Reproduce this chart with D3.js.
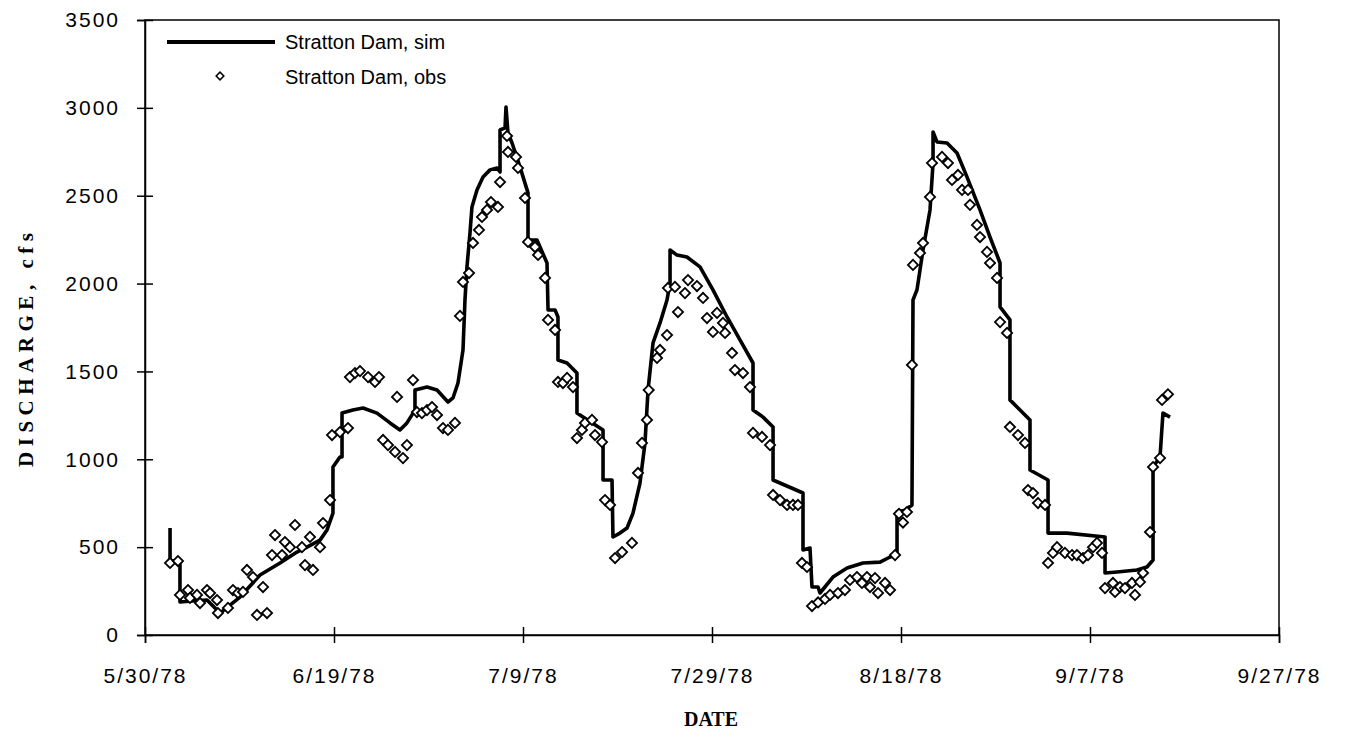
<!DOCTYPE html>
<html>
<head>
<meta charset="utf-8">
<script src="https://cdn.jsdelivr.net/npm/d3@7"></script>
<style>
    body { margin: 0; background: #fff; }
    text { font-family: "Liberation Sans", Arial, sans-serif; }
</style>
</head>
<body>
<div id="chart"></div>
<script>
// days after 5/30/78
const simDays = [2.65, 2.65, 3.7, 3.7, 5.3, 6.56, 7.94, 10.05, 12.17, 14.29, 16.08, 17.14, 18.52, 19.26, 19.89, 19.89,
    20.63, 20.85, 20.85, 22.0, 23.07, 24.55, 25.93, 26.98, 27.72, 28.57, 28.57, 29.84, 30.9, 32.06, 32.59, 33.12,
    33.65, 33.86, 34.07, 34.39, 34.6, 35.13, 35.77, 36.51, 37.25, 37.57, 37.57, 38.1, 38.2, 38.41, 38.84, 39.68,
    40.53, 40.53, 41.48, 42.54, 42.65, 43.39, 43.7, 43.7, 44.66, 45.71, 45.71, 46.35, 48.47, 48.47, 49.42, 49.52,
    50.26, 51.01, 51.64, 52.38, 52.91, 53.23, 53.76, 54.5, 55.24, 55.56, 55.56, 56.3, 57.35, 58.73, 60.1, 61.59,
    62.96, 64.34, 64.34, 65.4, 66.46, 66.46, 69.63, 69.63, 70.37, 70.58, 71.22, 71.43, 72.8, 74.29, 75.98, 77.78,
    78.84, 79.58, 79.58, 80.42, 81.16, 81.27, 81.69, 82.33, 83.07, 83.39, 83.39, 83.81, 84.87, 85.93, 86.98, 88.36,
    89.42, 90.48, 90.48, 91.53, 91.53, 93.65, 93.65, 95.56, 95.56, 97.57, 101.59, 101.59, 102.86, 104.97, 106.03,
    106.67, 106.67, 107.41, 107.72, 108.47];
const simQ = [609, 427, 410, 188, 195, 199, 125, 216, 341, 410, 472, 500, 540, 598, 694, 956,
    1013, 1013, 1263, 1280, 1292, 1263, 1207, 1167, 1207, 1280, 1394, 1411, 1394, 1326, 1349, 1434,
    1622, 1907, 2095, 2288, 2436, 2533, 2607, 2647, 2658, 2635, 2874, 2886, 3005, 2857, 2800, 2664,
    2516, 2248, 2248, 2117, 1850, 1850, 1810, 1565, 1548, 1491, 1263, 1240, 1167, 882, 882, 558,
    580, 609, 694, 865, 1093, 1394, 1662, 1776, 1907, 2003, 2191, 2162, 2151, 2095, 1964, 1810,
    1679, 1548, 1280, 1240, 1184, 882, 808, 484, 495, 273, 273, 239, 330, 381, 410, 415,
    444, 460, 700, 710, 740, 1907, 1964, 2191, 2419, 2686, 2863, 2806, 2800, 2743, 2607, 2419,
    2265, 2117, 1867, 1793, 1338, 1224, 939, 882, 580, 580, 558, 353, 359, 370, 387,
    427, 956, 1013, 1263, 1240];

const obsDays = [2.65, 3.49, 3.7, 4.55, 4.76, 5.5, 5.82, 6.56, 6.88, 7.62, 7.72, 8.78, 9.31, 9.84, 10.37, 10.79,
    11.43, 11.85, 12.49, 12.91, 13.44, 13.76, 14.5, 14.81, 15.34, 15.87, 16.61, 16.93, 17.46, 17.78, 18.52, 18.84,
    19.58, 19.79, 20.63, 21.48, 21.69, 22.22, 22.75, 23.6, 24.34, 24.76, 25.19, 25.71, 26.46, 26.67, 27.3, 27.72,
    28.36, 28.78, 29.31, 29.84, 30.37, 30.9, 31.53, 32.06, 32.8, 33.33, 33.65, 34.29, 34.71, 35.34, 35.66, 36.19,
    36.61, 37.35, 37.57, 38.31, 38.41, 39.26, 39.47, 40.21, 40.53, 41.27, 41.59, 42.33, 42.65, 43.39, 43.7, 44.23,
    44.66, 45.29, 45.71, 46.24, 46.56, 47.3, 47.62, 48.36, 48.68, 49.21, 49.74, 50.48, 51.53, 52.17, 52.59, 53.12,
    53.3, 54.18, 54.5, 55.24, 55.34, 56.08, 56.4, 57.14, 57.46, 58.41, 59.05, 59.47, 60.1, 60.53, 61.16, 61.38,
    62.12, 62.43, 63.28, 64.02, 64.34, 65.29, 66.14, 66.46, 67.2, 67.94, 68.57, 69.1, 69.52, 70.05, 70.58, 71.22,
    71.96, 72.49, 73.33, 74.07, 74.6, 75.34, 75.87, 76.4, 76.72, 77.25, 77.57, 78.31, 78.84, 79.37, 79.79, 80.21,
    80.63, 81.16, 81.27, 82.01, 82.33, 83.07, 83.28, 84.34, 84.97, 85.4, 86.03, 86.46, 87.09, 87.3, 88.04, 88.36,
    89.1, 89.42, 90.16, 90.48, 91.22, 91.53, 92.38, 93.12, 93.44, 93.97, 94.5, 95.24, 95.56, 96.08, 96.51, 97.35,
    98.1, 98.62, 99.26, 99.79, 100.32, 100.74, 101.27, 101.59, 102.43, 102.65, 103.17, 103.7, 104.44, 104.76, 105.29, 105.61,
    106.35, 106.67, 107.41, 107.62, 108.25];
const obsQ = [410, 421, 228, 256, 211, 228, 182, 256, 239, 199, 125, 154, 256, 239, 245, 370,
    330, 114, 273, 125, 455, 569, 455, 529, 500, 626, 500, 398, 558, 370, 500, 637,
    768, 1138, 1155, 1178, 1468, 1491, 1502, 1468, 1440, 1468, 1110, 1081, 1042, 1355, 1007, 1081,
    1451, 1269, 1263, 1280, 1297, 1252, 1178, 1167, 1207, 1816, 2009, 2060, 2231, 2305, 2379, 2419,
    2464, 2436, 2578, 2840, 2749, 2721, 2658, 2487, 2237, 2208, 2163, 2032, 1793, 1736, 1440, 1434,
    1463, 1411, 1121, 1167, 1207, 1224, 1138, 1098, 768, 740, 438, 472, 524, 922, 1093, 1224,
    1394, 1577, 1622, 1707, 1975, 1981, 1838, 1946, 2020, 1986, 1918, 1804, 1725, 1833, 1776, 1719,
    1605, 1508, 1491, 1411, 1150, 1127, 1081, 797, 768, 740, 740, 740, 410, 387, 165, 185,
    205, 228, 239, 256, 313, 330, 296, 330, 273, 324, 239, 296, 256, 455, 690, 640,
    700, 1537, 2106, 2174, 2231, 2493, 2686, 2721, 2686, 2590, 2618, 2533, 2533, 2448, 2334, 2265,
    2180, 2117, 2032, 1781, 1719, 1184, 1138, 1093, 825, 808, 751, 740, 410, 467, 500, 467,
    455, 455, 438, 455, 500, 524, 467, 267, 296, 245, 273, 267, 296, 228, 302, 353,
    586, 956, 1007, 1338, 1370];

const xTickDates = ['5/30/78', '6/19/78', '7/9/78', '7/29/78', '8/18/78', '9/7/78', '9/27/78'];
const yTicks = [0, 500, 1000, 1500, 2000, 2500, 3000, 3500];
const seriesNames = ['Stratton Dam, sim', 'Stratton Dam, obs'];

const width = 1347;
const height = 740;
const plotLeft = 145, plotRight = 1279, plotTop = 20, plotBottom = 635;

const parseDate = d3.timeParse('%m/%d/%y');
const startDate = parseDate(xTickDates[0]);
const dayToDate = d => new Date(startDate.getTime() + d * 86400000);

const x = d3.scaleTime()
    .domain([startDate, parseDate(xTickDates[xTickDates.length - 1])])
    .range([plotLeft, plotRight]);

const y = d3.scaleLinear()
    .domain([0, 3500])
    .range([plotBottom, plotTop]);

const svg = d3.select('#chart')
    .append('svg')
    .attr('width', width)
    .attr('height', height);

svg.append('rect')
    .attr('width', width)
    .attr('height', height)
    .attr('fill', '#fff');

svg.append('rect')
    .attr('x', plotLeft)
    .attr('y', plotTop)
    .attr('width', plotRight - plotLeft)
    .attr('height', plotBottom - plotTop)
    .attr('fill', 'none')
    .attr('stroke', '#000')
    .attr('stroke-width', 1.5);

const yAxis = svg.append('g')
    .attr('transform', `translate(${plotLeft},0)`)
    .call(d3.axisLeft(y).tickValues(yTicks).tickSize(8).tickPadding(17).tickFormat(d3.format('d')));

const xAxis = svg.append('g')
    .attr('transform', `translate(0,${plotBottom})`)
    .call(d3.axisBottom(x).tickValues(xTickDates.map(parseDate)).tickSize(8).tickPadding(25)
        .tickFormat(d3.timeFormat('%-m/%-d/%y')));

[yAxis, xAxis].forEach(g => {
    g.select('.domain').attr('stroke-width', 1.5);
    g.selectAll('text').attr('font-size', 21).attr('fill', '#000')
        .attr('letter-spacing', 2)
        .attr('font-family', '"Liberation Sans", Arial, sans-serif');
    g.selectAll('.tick line').attr('stroke-width', 1.5);
});
yAxis.selectAll('.tick line').attr('x1', 8);
xAxis.selectAll('.tick line').attr('y1', -8);

svg.append('text')
    .attr('transform', `translate(33,350) rotate(-90)`)
    .attr('text-anchor', 'middle')
    .attr('textLength', 234)
    .attr('lengthAdjust', 'spacing')
    .style('font-family', '"Liberation Serif", "Times New Roman", serif')
    .style('font-weight', 'bold')
    .style('font-size', '21px')
    .text('DISCHARGE, cfs');

svg.append('text')
    .attr('x', (plotLeft + plotRight) / 2 - 1)
    .attr('y', 726)
    .attr('text-anchor', 'middle')
    .style('font-family', '"Liberation Serif", "Times New Roman", serif')
    .style('font-weight', 'bold')
    .style('font-size', '20px')
    .text('DATE');

const line = d3.line()
    .x((d, i) => x(dayToDate(simDays[i])))
    .y(d => y(d));

svg.append('path')
    .datum(simQ)
    .attr('d', line)
    .attr('fill', 'none')
    .attr('stroke', '#000')
    .attr('stroke-width', 3.6)
    .attr('stroke-linejoin', 'round');

const diamond = d3.symbol().type(d3.symbolSquare).size(52);

svg.selectAll('.obs')
    .data(obsQ)
    .enter()
    .append('path')
    .attr('class', 'obs')
    .attr('d', diamond)
    .attr('transform', (d, i) => `translate(${x(dayToDate(obsDays[i]))},${y(d)}) rotate(45)`)
    .attr('fill', '#fff')
    .attr('stroke', '#000')
    .attr('stroke-width', 1.8);

const legend = svg.append('g');

legend.append('line')
    .attr('x1', 167).attr('x2', 275)
    .attr('y1', 42).attr('y2', 42)
    .attr('stroke', '#000')
    .attr('stroke-width', 4);

legend.append('path')
    .attr('d', d3.symbol().type(d3.symbolSquare).size(30))
    .attr('transform', 'translate(220,76) rotate(45)')
    .attr('fill', '#fff')
    .attr('stroke', '#000')
    .attr('stroke-width', 1.5);

seriesNames.forEach((name, i) => {
    legend.append('text')
        .attr('x', 285)
        .attr('y', 49 + i * 35)
        .style('font-size', '20px')
        .text(name);
});
</script>
</body>
</html>
